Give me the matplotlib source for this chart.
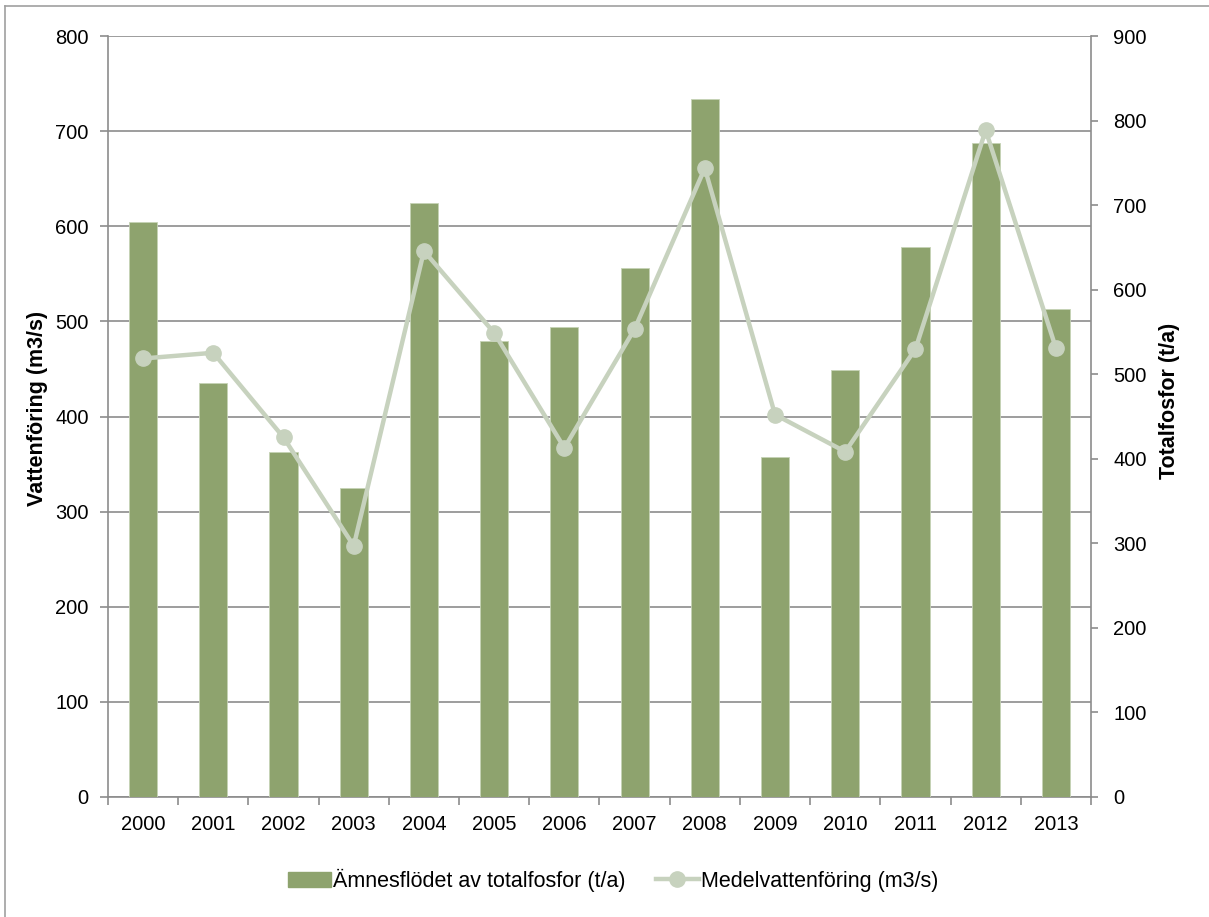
import numpy as np
import matplotlib.pyplot as plt
from matplotlib.lines import Line2D
from matplotlib.patches import Patch

plt.rcParams['font.family'] = ['Liberation Sans', 'DejaVu Sans']

years = ['2000', '2001', '2002', '2003', '2004', '2005', '2006',
         '2007', '2008', '2009', '2010', '2011', '2012', '2013']
# total phosphorus load, t/a (right axis)
fosfor = [680, 490, 408, 366, 702, 539, 556, 626, 825, 402, 505, 650, 774, 577]
# mean water discharge, m3/s (left axis)
vattenforing = [461, 467, 378, 264, 574, 488, 367, 492, 661, 402, 363, 471, 701, 472]

bar_color = '#8ea36e'
line_color = '#c7d2be'
axis_color = '#8c8c8c'

fig = plt.figure(figsize=(12.09, 9.17), dpi=100)
ax = fig.add_axes([0.0893, 0.1309, 0.8131, 0.8298])
ax2 = ax.twinx()
ax3 = ax.twinx()

x = np.arange(len(years))

# left axis: gridlines and ticks
ax.set_ylim(0, 800)
ax.set_yticks(range(0, 801, 100))
ax.set_xlim(-0.5, len(years) - 0.5)
ax.yaxis.grid(True, color=axis_color, linewidth=1.2)
ax.set_axisbelow(True)
ax.set_ylabel('Vattenföring (m3/s)', fontsize=15.5, fontweight='bold')
ax.yaxis.set_label_coords(-0.061, 0.51)

# bars on the right axis
ax2.bar(x, fosfor, width=0.4, color=bar_color, edgecolor='#c5d3b5', linewidth=0.6)
ax2.set_ylim(0, 900)
ax2.set_yticks(range(0, 901, 100))
ax2.set_ylabel('Totalfosfor (t/a)', fontsize=15.5, fontweight='bold')
ax2.yaxis.set_label_coords(1.069, 0.52)

# line on top, same scale as the left axis
ax3.plot(x, vattenforing, color=line_color, linewidth=3.2, marker='o',
         markersize=11, markerfacecolor=line_color, markeredgecolor=line_color)
ax3.set_ylim(ax.get_ylim())
ax3.set_yticks([])
for s in ax3.spines.values():
    s.set_visible(False)

ax.set_xticks(x)
ax.set_xticklabels(years)
ax.set_xticks(np.arange(-0.5, len(years), 1), minor=True)
ax.tick_params(axis='x', which='major', length=0, pad=13, labelsize=14.5)
ax.tick_params(axis='x', which='minor', length=6, color=axis_color, width=1.2)
ax.tick_params(axis='y', length=6, color=axis_color, width=1.2, pad=8, labelsize=14.5)
ax2.tick_params(axis='y', length=5, color=axis_color, width=1.2, pad=11, labelsize=14.5)

for a in (ax, ax2):
    a.spines['top'].set_visible(False)
    for side in ('left', 'right', 'bottom'):
        a.spines[side].set_color(axis_color)
        a.spines[side].set_linewidth(1.2)
ax.spines['right'].set_visible(False)
ax2.spines['left'].set_visible(False)
ax2.spines['bottom'].set_visible(False)

handles = [Patch(facecolor=bar_color, edgecolor=bar_color),
           Line2D([], [], color=line_color, linewidth=3.2, marker='o',
                  markersize=11, markerfacecolor=line_color, markeredgecolor=line_color)]
fig.legend(handles, ['Ämnesflödet av totalfosfor (t/a)', 'Medelvattenföring (m3/s)'],
           loc='center', bbox_to_anchor=(0.507, 0.04), ncol=2, frameon=False,
           fontsize=15.5, handlelength=2.0, handletextpad=0.1, columnspacing=1.4)

# outer chart frame
fig.add_artist(Line2D([0.0045, 0.0045], [0, 0.9935], color='#a0a0a0', linewidth=1.2))
fig.add_artist(Line2D([0.0045, 1], [0.9935, 0.9935], color='#a0a0a0', linewidth=1.2))

fig.savefig('out.png', dpi=100)
